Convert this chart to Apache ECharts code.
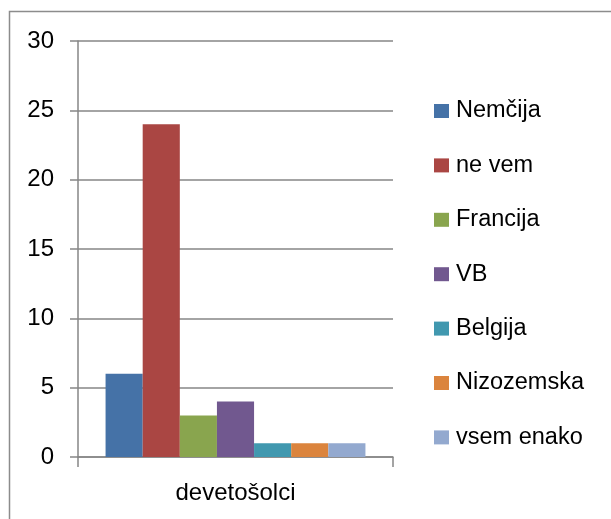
<!DOCTYPE html>
<html>
<head>
<meta charset="utf-8">
<script src="https://cdn.jsdelivr.net/npm/echarts@6/dist/echarts.min.js"></script>
<style>
  html, body { margin: 0; padding: 0; background: #fff; }
  #chart { width: 611px; height: 519px; }
</style>
</head>
<body>
<div id="chart"></div>
<script>
// podatki
const categories = ['devetošolci']
const seriesNames = ['Nemčija', 'ne vem', 'Francija', 'VB', 'Belgija', 'Nizozemska', 'vsem enako']
const seriesValues = [6, 24, 3, 4, 1, 1, 1]
const colors = ['#4572A7', '#AA4643', '#89A54E', '#71588F', '#4198AF', '#DB843D', '#93A9CF']
const yTicks = { min: 0, max: 30, interval: 5 }

const font = 'Liberation Sans, Arial, sans-serif'
const chart = echarts.init(document.getElementById('chart'))

const option = {
  animation: false,
  color: colors,
  graphic: [{
    type: 'rect',
    shape: { x: 9.5, y: 11.5, width: 700, height: 600 },
    style: { fill: 'none', stroke: '#8c8c8c', lineWidth: 1.5 },
    silent: true
  }],
  grid: { left: 78, right: 218, top: 41, bottom: 62 },
  legend: {
    orient: 'vertical',
    left: 434,
    top: 99,
    padding: 0,
    itemWidth: 15,
    itemHeight: 14,
    itemGap: 30.4,
    icon: 'rect',
    textStyle: { fontFamily: font, fontSize: 23.5, color: '#000', lineHeight: 20, padding: [0, 0, 0, 2] },
    data: seriesNames
  },
  xAxis: {
    type: 'category',
    data: categories,
    axisLine: { lineStyle: { color: '#868686', width: 1.5 } },
    axisTick: { show: true, length: 10, lineStyle: { color: '#868686', width: 1.5 } },
    axisLabel: { fontFamily: font, fontSize: 24, color: '#000', margin: 24 }
  },
  yAxis: {
    type: 'value',
    min: yTicks.min,
    max: yTicks.max,
    interval: yTicks.interval,
    axisLine: { show: true, lineStyle: { color: '#868686', width: 1.5 } },
    axisTick: { show: true, length: 8, lineStyle: { color: '#868686', width: 1.5 } },
    splitLine: { lineStyle: { color: '#868686', width: 1.5 } },
    axisLabel: { fontFamily: font, fontSize: 24, color: '#000', margin: 24 }
  },
  series: seriesNames.map((name, i) => ({
    name: name,
    type: 'bar',
    data: [seriesValues[i]],
    barGap: '0%',
    barCategoryGap: '17.5%'
  }))
}

chart.setOption(option)
</script>
</body>
</html>
